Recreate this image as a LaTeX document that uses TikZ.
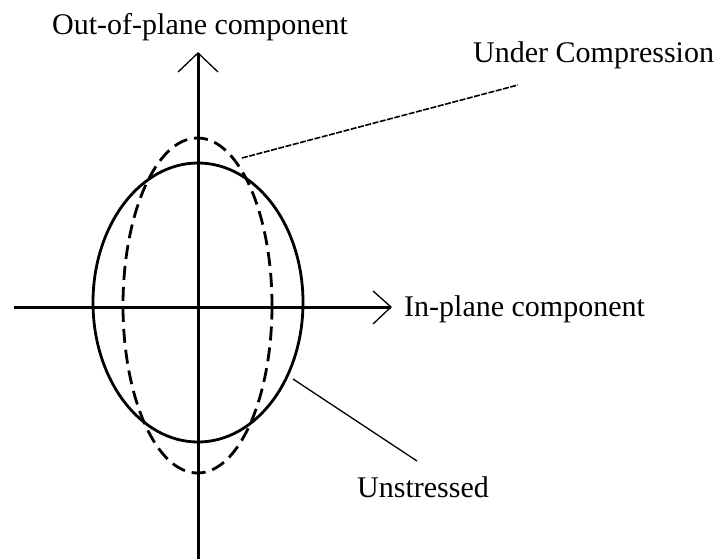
\documentclass[tikz,border=0pt]{standalone}
\usepackage{fontspec}
\setmainfont{Liberation Serif}
\begin{document}
\begin{tikzpicture}[x=1pt,y=-1pt,
  axis/.style={line width=3pt},
  tipline/.style={line width=1.3pt},
  unstressed/.style={line width=2.8pt},
  compressed/.style={line width=2.8pt,dash pattern=on 14pt off 7pt},
  leader/.style={line width=1.3pt},
  leaderdash/.style={line width=1.6pt,dash pattern=on 6pt off 1.5pt},
  lbl/.style={inner sep=0pt,anchor=base west,font=\fontsize{30}{36}\selectfont}]
\useasboundingbox (0,0) rectangle (722,559);
% axes
\coordinate (vbot) at (198,559);
\coordinate (vtop) at (198,53);
\coordinate (vwl) at (178,72);
\coordinate (vwr) at (218,72);
\coordinate (hleft) at (14,307);
\coordinate (htip) at (391,307);
\coordinate (hwu) at (373,291);
\coordinate (hwd) at (373,324);
\draw[axis] (vbot) -- (vtop);
\draw[axis] (hleft) -- (htip);
\draw[tipline] (vwl) -- (vtop) -- (vwr);
\draw[tipline] (hwu) -- (htip) -- (hwd);
% ellipses
\coordinate (cu) at (198,302.5);
\coordinate (cc) at (197.5,305.5);
\draw[unstressed] (cu) ellipse [x radius=105, y radius=139.5];
\draw[compressed] (cc) ellipse [x radius=74.5, y radius=167.5];
% labels
\node[lbl] (outl) at (52,35) {Out-of-plane component};
\node[lbl] (underl) at (473,63) {Under Compression};
\node[lbl] (inl) at (404,316) {In-plane component};
\node[lbl] (unstl) at (357,497) {Unstressed};
% leaders
\coordinate (ucs) at (242,158);
\coordinate (uce) at (518,85);
\coordinate (uss) at (293,379);
\coordinate (use) at (417,461);
\draw[leaderdash] (ucs) -- (uce);
\draw[leader] (uss) -- (use);
\end{tikzpicture}
\end{document}
